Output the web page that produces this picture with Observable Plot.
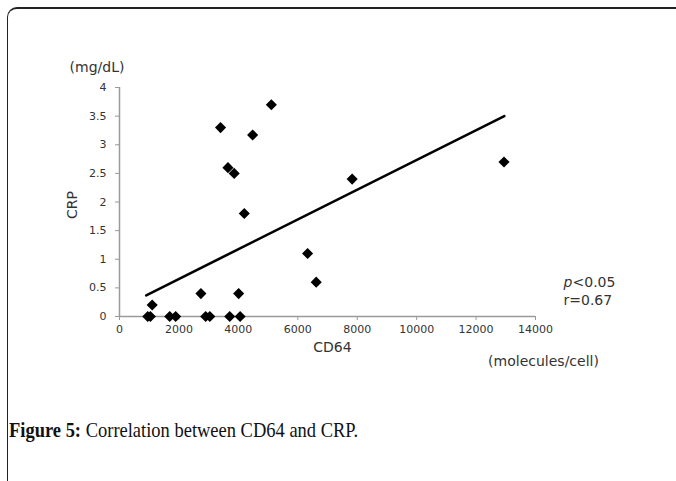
<!DOCTYPE html>
<html>
<head>
<meta charset="utf-8">
<script src="https://cdn.jsdelivr.net/npm/d3@7"></script>
<script src="https://cdn.jsdelivr.net/npm/@observablehq/plot@0.6"></script>
<style>
  html, body { margin: 0; padding: 0; background: #fff; width: 676px; height: 481px; overflow: hidden; }
  #frame { position: absolute; left: 7px; top: 7px; width: 720px; height: 520px;
           border-left: 1.5px solid #222; border-top: 2px solid #222; border-top-left-radius: 10px; }
  #chart { position: absolute; left: 0; top: 0; }
  #caption { position: absolute; left: 9px; top: 418px; font-family: "Liberation Serif", "DejaVu Serif", serif;
             font-size: 21px; line-height: 24px; color: #111; white-space: nowrap;
             transform: scaleX(0.88); transform-origin: left top; }
</style>
</head>
<body>
<div id="frame"></div>
<div id="chart"></div>
<div id="caption"><b>Figure 5:</b> Correlation between CD64 and CRP.</div>
<script>
// CD64 (molecules/cell) and CRP (mg/dL) per patient
const cd64 = [950, 1040, 1100, 1690, 1890, 2740, 2900, 3040, 3400, 3650, 3860, 3710, 4010, 4060, 4200, 4480, 5110, 6330, 6620, 7830, 12940];
const crp  = [0,   0,    0.2,  0,    0,    0.4,  0,    0,    3.3,  2.6,  2.5,  0,    0.4,  0,    1.8,  3.17, 3.7,  1.1,  0.6,  2.4,  2.7];

// regression line end points
const trendX = [900, 12950];
const trendY = [0.37, 3.5];

const xTicks = [0, 2000, 4000, 6000, 8000, 10000, 12000, 14000];
const yTicks = [0, 0.5, 1, 1.5, 2, 2.5, 3, 3.5, 4];

const points = cd64.map((x, i) => ({x, y: crp[i]}));
const trend = trendX.map((x, i) => ({x, y: trendY[i]}));

const font = "DejaVu Sans, Liberation Sans, sans-serif";
const axisGray = "#9a9a9a";
const textGray = "#333";

const chart = Plot.plot({
  width: 676,
  height: 400,
  marginLeft: 119,
  marginRight: 141,
  marginTop: 87,
  marginBottom: 84,
  style: {fontFamily: font, fontSize: "11px", background: "transparent"},
  x: {domain: [0, 14000]},
  y: {domain: [0, 4]},
  marks: [
    Plot.axisX(xTicks, {tickSize: 4, tickPadding: 5, stroke: axisGray, fill: textGray, label: null, tickFormat: d => String(d)}),
    Plot.axisY(yTicks, {tickSize: 4, tickPadding: 9, stroke: axisGray, fill: textGray, label: null, tickFormat: d => String(d)}),
    Plot.ruleY([0], {stroke: axisGray, strokeWidth: 1.5}),
    Plot.ruleX([0], {stroke: axisGray, strokeWidth: 1.5}),
    Plot.line(trend, {x: "x", y: "y", stroke: "#000", strokeWidth: 2.6}),
    Plot.dot(points, {x: "x", y: "y", symbol: "diamond2", r: 5, fill: "#000", stroke: "none"}),
    Plot.text(["(mg/dL)"], {frameAnchor: "top-left", dx: -22.5, dy: -25, textAnchor: "middle", fill: textGray, fontSize: 14}),
    Plot.text(["CRP"], {frameAnchor: "left", dx: -47, dy: 3, rotate: -90, textAnchor: "middle", fill: textGray, fontSize: 14}),
    Plot.text(["CD64"], {frameAnchor: "bottom", dx: 5, dy: 35, textAnchor: "middle", fill: textGray, fontSize: 14}),
    Plot.text(["(molecules/cell)"], {frameAnchor: "bottom-right", dx: 8, dy: 49, textAnchor: "middle", fill: textGray, fontSize: 14}),
    Plot.text(["p"], {frameAnchor: "bottom-right", dx: 28, dy: -30, textAnchor: "start", fontStyle: "italic", fill: textGray, fontSize: 14}),
    Plot.text(["<0.05"], {frameAnchor: "bottom-right", dx: 37, dy: -30, textAnchor: "start", fill: textGray, fontSize: 14}),
    Plot.text(["r=0.67"], {frameAnchor: "bottom-right", dx: 28, dy: -12, textAnchor: "start", fill: textGray, fontSize: 14})
  ]
});
document.getElementById("chart").appendChild(chart);
</script>
</body>
</html>
